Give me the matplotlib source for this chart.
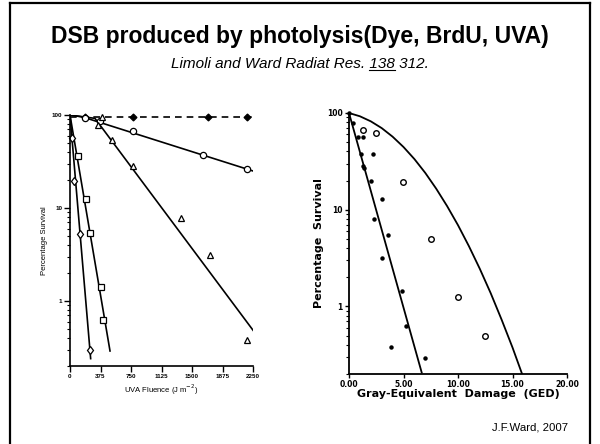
import numpy as np
import matplotlib
matplotlib.use("Agg")
import matplotlib.pyplot as plt
from matplotlib.lines import Line2D
from matplotlib.ticker import FixedLocator, NullFormatter

plt.rcParams['font.family'] = ['Liberation Sans', 'DejaVu Sans']

# ---- left panel: UVA fluence survival curves ----
uva_ticks = [0, 375, 750, 1125, 1500, 1875, 2250]
uva_ticklabels = ['0', '375', '750', '1125', '1500', '1875', '2250']

ctrl_x = [187, 770, 1700, 2175]          # filled, dashed line
ctrl_y = [95, 95, 95, 95]
ctrl_line_x = [0, 2250]
ctrl_line_y = [96, 96]

circ_x = [184, 369, 771, 1639, 2172]
circ_y = [92, 87, 68, 37, 26]
circ_line_x = [0, 160, 2250]
circ_line_y = [100, 95, 25]

tri_x = [389, 348, 512, 778, 1365, 1721, 2180]
tri_y = [96, 78, 54, 28, 7.9, 3.1, 0.38]
tri_line_x = [0, 307, 2254]
tri_line_y = [100, 92, 0.48]

sq_x = [102, 193, 246, 377, 410]
sq_y = [36, 12.6, 5.4, 1.42, 0.63]
sq_line_x = [0, 492]
sq_line_y = [100, 0.29]

dia_x = [20, 53, 123, 246]
dia_y = [56, 19.4, 5.3, 0.3]
dia_line_x = [0, 254]
dia_line_y = [100, 0.24]

# ---- right panel: survival vs gray-equivalent damage ----
ged_ticks = [0, 5, 10, 15, 20]
ged_ticklabels = ['0.00', '5.00', '10.00', '15.00', '20.00']

filled_x = [0.0, 0.4, 0.86, 1.31, 1.1, 2.17, 1.31, 1.4, 2.02, 3.0, 2.32, 3.61,
            3.0, 4.83, 5.23, 3.85, 6.97]
filled_y = [100, 78, 57, 56, 38, 38, 28, 27, 20, 13, 8.1, 5.5,
            3.2, 1.44, 0.63, 0.38, 0.29]
steep_x = [0, 6.67]
steep_y = [100, 0.207]

open_x = [1.25, 2.48, 4.98, 7.49, 9.97, 12.48]
open_y = [67, 62, 19.3, 5.0, 1.25, 0.50]

# shouldered curve
curve_x = [0, 1, 2, 3, 4, 5, 6, 7, 8, 9, 10, 11, 12, 13, 14, 15, 15.88]
curve_y = [100, 92.5, 82.0, 69.8, 56.9, 44.5, 33.4, 24.0, 16.5, 10.9,
           6.92, 4.20, 2.45, 1.37, 0.73, 0.376, 0.2]

W, H = 600, 444
fig = plt.figure(figsize=(6, 4.44), dpi=100)


def fx(px):
    return px / W


def fy(py):
    return 1 - py / H


# slide frame
for xs, ys in [([10, 10], [3, 450]), ([10, 590], [3, 3]), ([590, 590], [3, 450])]:
    fig.add_artist(Line2D([fx(x) for x in xs], [fy(y) for y in ys],
                          color='black', lw=1.6, transform=fig.transFigure))

fig.text(0.5, fy(37), 'DSB produced by photolysis(Dye, BrdU, UVA)',
         ha='center', va='center', fontsize=16.5, fontweight='bold')

# subtitle with underlined volume number
sub_full = 'Limoli and Ward Radiat Res. 138 312.'
sub_pre = 'Limoli and Ward Radiat Res. 138'
sub_vol = '138'
sub_fs = 11
base_py = 68
t_full = fig.text(0.5, fy(base_py), sub_full, ha='center', va='baseline',
                  fontsize=sub_fs, style='italic')
fig.canvas.draw()
r = fig.canvas.get_renderer()


def width_of(s):
    t = fig.text(0, 0, s, fontsize=sub_fs, style='italic')
    w = t.get_window_extent(r).width
    t.remove()
    return w


w_full = t_full.get_window_extent(r).width
w_pre = width_of(sub_pre)
w_vol = width_of(sub_vol)
x0 = W / 2 - w_full / 2
ux1 = x0 + w_pre
ux0 = ux1 - w_vol
fig.add_artist(Line2D([fx(ux0), fx(ux1)], [fy(base_py + 2)] * 2, color='black',
                      lw=0.8, transform=fig.transFigure))

fig.text(fx(530), fy(427), 'J.F.Ward, 2007', ha='center', va='center', fontsize=8.2)

# ---------------- left panel ----------------
ax1 = fig.add_axes([fx(70), fy(366), fx(253) - fx(70), fy(115) - fy(366)])
ax1.set_yscale('log')
ax1.set_xlim(0, 2250)
ax1.set_ylim(0.2, 100)

lw = 1.2
ax1.plot(ctrl_line_x, ctrl_line_y, color='black', lw=lw, ls=(0, (4, 3)))
ax1.plot(circ_line_x, circ_line_y, color='black', lw=lw)
ax1.plot(tri_line_x, tri_line_y, color='black', lw=lw)
ax1.plot(sq_line_x, sq_line_y, color='black', lw=lw)
ax1.plot(dia_line_x, dia_line_y, color='black', lw=lw)

mk = dict(ls='none', mec='black', mfc='white', mew=0.9, ms=4.5, clip_on=False)
ax1.plot(ctrl_x, ctrl_y, marker='D', **{**mk, 'mfc': 'black', 'ms': 3.5})
ax1.plot(circ_x, circ_y, marker='o', **mk)
ax1.plot(tri_x, tri_y, marker='^', **mk)
ax1.plot(sq_x, sq_y, marker='s', **mk)
ax1.plot(dia_x, dia_y, marker='d', **mk)

for s in ['top', 'right']:
    ax1.spines[s].set_visible(False)
for s in ['left', 'bottom']:
    ax1.spines[s].set_linewidth(1.2)
ax1.set_xticks(uva_ticks)
ax1.set_xticklabels(uva_ticklabels, fontsize=4.5, fontweight='bold')
ax1.set_yticks([1, 10, 100])
ax1.set_yticklabels(['1', '10', '100'], fontsize=4.5, fontweight='bold')
ax1.yaxis.set_minor_locator(FixedLocator(
    [m * d for d in (0.1, 1, 10) for m in range(2, 10) if 0.2 <= m * d < 100]))
ax1.yaxis.set_minor_formatter(NullFormatter())
ax1.tick_params(axis='both', which='major', length=4, width=1, pad=1.5)
ax1.tick_params(axis='y', which='minor', length=2, width=0.8)
ax1.set_xlabel('UVA Fluence (J m$^{-2}$)', fontsize=5.5, labelpad=3)
ax1.set_ylabel('Percentage Survival', fontsize=5.5, labelpad=3)

# ---------------- right panel ----------------
ax2 = fig.add_axes([fx(349), fy(374), fx(567) - fx(349), fy(113) - fy(374)])
ax2.set_yscale('log')
ax2.set_xlim(0, 20)
ax2.set_ylim(0.2, 100)

ax2.plot(steep_x, steep_y, color='black', lw=1.3)
ax2.plot(curve_x, curve_y, color='black', lw=1.3)
ax2.plot(filled_x, filled_y, ls='none', marker='o', ms=2.2, mfc='black',
         mec='black', clip_on=False)
ax2.plot(open_x, open_y, ls='none', marker='o', ms=4, mfc='white',
         mec='black', mew=1.0, clip_on=False)

for s in ['top', 'right']:
    ax2.spines[s].set_visible(False)
for s in ['left', 'bottom']:
    ax2.spines[s].set_linewidth(1.3)
ax2.set_xticks(ged_ticks)
ax2.set_xticklabels(ged_ticklabels, fontsize=5.5, fontweight='bold',
                    family='DejaVu Sans')
ax2.set_yticks([1, 10, 100])
ax2.set_yticklabels(['1', '10', '100'], fontsize=5.5, fontweight='bold',
                    family='DejaVu Sans')
ax2.yaxis.set_minor_locator(FixedLocator(
    [m * d for d in (0.1, 1, 10) for m in range(2, 10) if 0.2 <= m * d < 100]))
ax2.yaxis.set_minor_formatter(NullFormatter())
ax2.tick_params(axis='both', which='major', length=3, width=1, pad=1.5)
ax2.tick_params(axis='y', which='minor', length=2, width=0.8)
ax2.set_xlabel('Gray-Equivalent  Damage  (GED)', fontsize=8, fontweight='bold',
               family='DejaVu Sans', labelpad=0)
ax2.set_ylabel('Percentage  Survival', fontsize=8, fontweight='bold',
               family='DejaVu Sans', labelpad=2)

fig.savefig('out.png', dpi=100)
